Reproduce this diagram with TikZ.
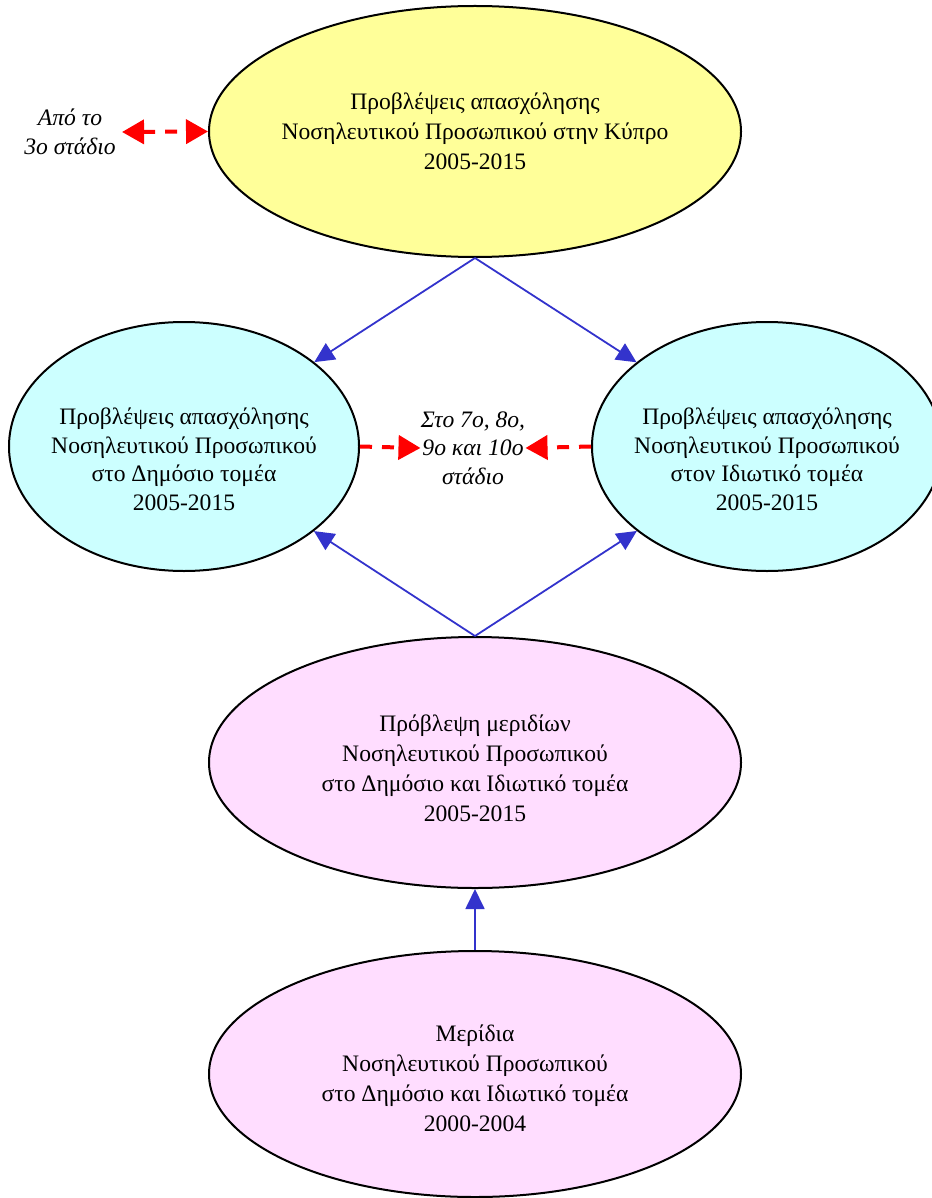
\documentclass[tikz,border=0pt]{standalone}
\usepackage{fontspec}
\setmainfont{Liberation Serif}
\usetikzlibrary{arrows.meta,shapes.geometric}

\definecolor{topyellow}{RGB}{255,255,153}
\definecolor{sidecyan}{RGB}{204,255,255}
\definecolor{sharepink}{RGB}{255,221,255}
\definecolor{linkblue}{RGB}{51,51,204}

\begin{document}
\begin{tikzpicture}[x=0.5pt,y=-0.5pt,
  oval/.style={ellipse,draw,line width=1pt,inner sep=0pt},
  wideoval/.style={oval,minimum width=266pt,minimum height=125.5pt},
  sideoval/.style={oval,fill=sidecyan,minimum width=175pt,minimum height=124.5pt},
  ovaltext/.style={align=center,inner sep=0pt,font=\fontsize{11.8}{15}\selectfont},
  note/.style={align=center,inner sep=0pt,font=\itshape\fontsize{11.8}{14.25}\selectfont},
  link/.style={linkblue,line width=0.9pt,-{Triangle[length=10pt,width=9.5pt]}},
  stagearrow/.style={red,line width=2pt,dash pattern=on 6pt off 5pt}]
  \useasboundingbox (0,0) rectangle (931,1198);

  \node[wideoval,fill=topyellow] (cyprus) at (475,131.5) {};
  \node[sideoval] (public) at (184,446.5) {};
  \node[sideoval] (private) at (767,446.5) {};
  \node[wideoval,fill=sharepink] (forecast) at (475,762.5) {};
  \node[wideoval,fill=sharepink,minimum height=123pt] (shares) at (475,1074) {};

  \node[ovaltext] (cyprustext) at (cyprus)
    {Προβλέψεις απασχόλησης\\Νοσηλευτικού Προσωπικού στην Κύπρο\\2005-2015};
  \node[ovaltext,yshift=-6.5pt,font=\fontsize{11.8}{14.25}\selectfont] (publictext) at (public)
    {Προβλέψεις απασχόλησης\\Νοσηλευτικού Προσωπικού\\στο Δημόσιο τομέα\\2005-2015};
  \node[ovaltext,yshift=-6.5pt,font=\fontsize{11.8}{14.25}\selectfont] (privatetext) at (private)
    {Προβλέψεις απασχόλησης\\Νοσηλευτικού Προσωπικού\\στον Ιδιωτικό τομέα\\2005-2015};
  \node[ovaltext,yshift=-3pt] (forecasttext) at (forecast)
    {Πρόβλεψη μεριδίων\\Νοσηλευτικού Προσωπικού\\στο Δημόσιο και Ιδιωτικό τομέα\\2005-2015};
  \node[ovaltext,yshift=-2pt] (sharestext) at (shares)
    {Μερίδια\\Νοσηλευτικού Προσωπικού\\στο Δημόσιο και Ιδιωτικό τομέα\\2000-2004};

  \node[note] (later) at (473,448) {Στο 7ο, 8ο,\\9ο και 10ο\\στάδιο};
  \node[note,inner sep=3pt] (earlier) at (70,132) {Από το\\3ο στάδιο};

  % forecasting links
  \draw[link] (cyprus.south) -- (public);
  \draw[link] (cyprus.south) -- (private);
  \draw[link] (forecast.north) -- (public);
  \draw[link] (forecast.north) -- (private);
  \draw[link] (shares.north) -- (forecast.south);

  % stages
  \draw[stagearrow,{Triangle[length=11pt,width=12pt]}-{Triangle[length=11pt,width=12pt]}]
    (earlier.east) -- (cyprus.west);
  \draw[stagearrow,-{Triangle[length=11pt,width=12pt]}] (public.east) -- (later.west);
  \draw[stagearrow,-{Triangle[length=11pt,width=12pt]}] (private.west) -- (later.east);
\end{tikzpicture}
\end{document}
